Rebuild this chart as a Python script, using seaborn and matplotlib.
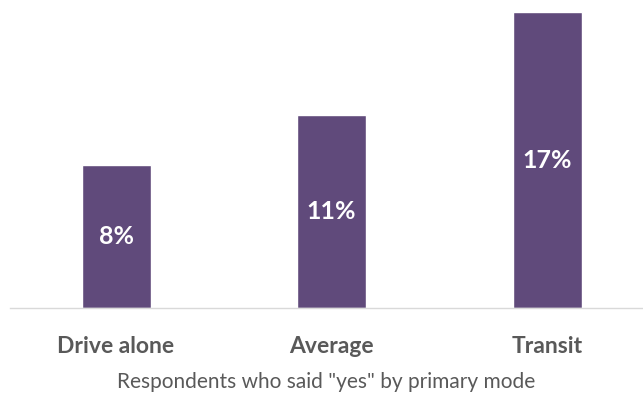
import pandas as pd
import matplotlib.pyplot as plt
import seaborn as sns

modes = ['Drive alone', 'Average', 'Transit']
share_yes = [8.2, 11.1, 17.0]

sns.set_theme(style='white')
plt.rcParams['font.family'] = ['Lato', 'DejaVu Sans']

df = pd.DataFrame({'mode': modes, 'share': share_yes})

fig = plt.figure(figsize=(6.43, 3.94), dpi=100)
ax = fig.add_axes([10 / 643, 86 / 394, 633 / 643, 296 / 394])

sns.barplot(data=df, x='mode', y='share', color='#604A7B', width=0.32,
            saturation=1, ax=ax)

# percentage labels inside the bars
ax.bar_label(ax.containers[0], labels=[f'{v:.0f}%' for v in share_yes],
             label_type='center', color='white', fontsize=18, fontweight='bold')

ax.set_xlim(-0.492, 2.445)
ax.set_ylim(0, 17)
ax.set_yticks([])
ax.set_ylabel('')
ax.set_xlabel('Respondents who said "yes" by primary mode', fontsize=15,
              color='#595959', labelpad=11)
ax.tick_params(axis='x', length=0, pad=20, labelsize=16.5, labelcolor='#595959')
for lbl in ax.get_xticklabels():
    lbl.set_fontweight('bold')

for side in ['top', 'right', 'left']:
    ax.spines[side].set_visible(False)
ax.spines['bottom'].set_color('#D9D9D9')
ax.spines['bottom'].set_linewidth(1)

fig.savefig('out.png', dpi=100)
